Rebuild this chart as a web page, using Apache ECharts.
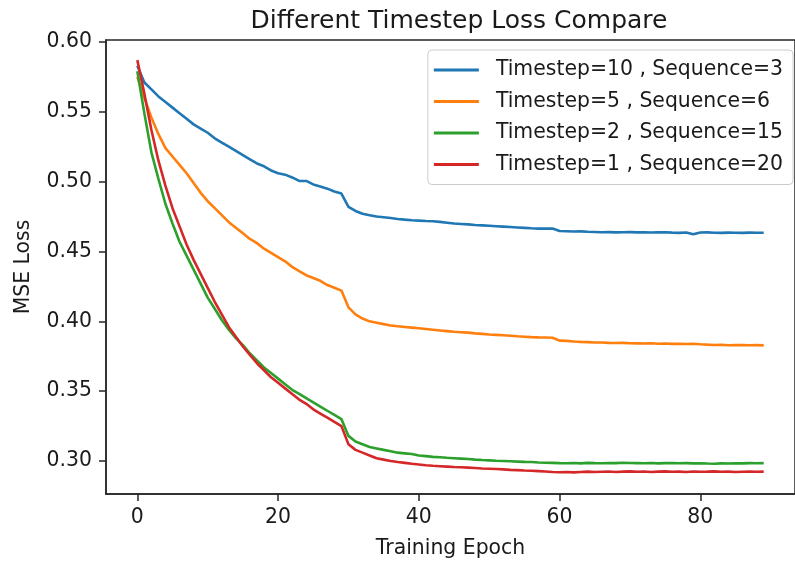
<!DOCTYPE html>
<html>
<head>
<meta charset="utf-8">
<script src="https://cdn.jsdelivr.net/npm/echarts@6/dist/echarts.min.js"></script>
<style>
	html, body { margin: 0; padding: 0; background: #fff; }
	#main { width: 795px; height: 564px; }
</style>
</head>
<body>
<div id="main"></div>
<script>
// epochs 0..89
var epochs = Array.from({ length: 90 }, function (_, i) { return i; });

var seriesNames = [
	'Timestep=10 , Sequence=3',
	'Timestep=5 , Sequence=6',
	'Timestep=2 , Sequence=15',
	'Timestep=1 , Sequence=20'
];

var lossT10 = [
	0.583, 0.571, 0.566, 0.561, 0.557, 0.553, 0.549, 0.545, 0.541, 0.538,
	0.535, 0.531, 0.528, 0.525, 0.522, 0.519, 0.516, 0.513, 0.511, 0.508,
	0.506, 0.505, 0.503, 0.5005, 0.5005, 0.498, 0.4965, 0.495, 0.493, 0.4915,
	0.482, 0.479, 0.477, 0.476, 0.475, 0.4745, 0.474, 0.4733, 0.4728, 0.4724,
	0.4721, 0.4718, 0.4716, 0.4712, 0.4706, 0.4700, 0.4697, 0.4694, 0.4690, 0.4687,
	0.4684, 0.4681, 0.4678, 0.4675, 0.4672, 0.4669, 0.4666, 0.4664, 0.4665, 0.4664,
	0.4647, 0.4645, 0.4643, 0.4644, 0.4641, 0.4640, 0.4638, 0.4639, 0.4637, 0.4638,
	0.4639, 0.4637, 0.4638, 0.4636, 0.4637, 0.4638, 0.4635, 0.4633, 0.4636, 0.4623,
	0.4636, 0.4637, 0.4634, 0.4633, 0.4635, 0.4634, 0.4633, 0.4635, 0.4634, 0.4634
];

var lossT5 = [
	0.575, 0.560, 0.546, 0.534, 0.524, 0.518, 0.512, 0.506, 0.499, 0.492,
	0.486, 0.481, 0.476, 0.471, 0.467, 0.463, 0.459, 0.456, 0.452, 0.449,
	0.446, 0.443, 0.439, 0.436, 0.433, 0.431, 0.429, 0.426, 0.424, 0.422,
	0.410, 0.405, 0.402, 0.400, 0.399, 0.398, 0.397, 0.3965, 0.396, 0.3955,
	0.395, 0.3945, 0.394, 0.3935, 0.393, 0.3925, 0.3922, 0.3919, 0.3914, 0.391,
	0.3906, 0.3903, 0.390, 0.3897, 0.3893, 0.389, 0.3887, 0.3885, 0.3884, 0.3883,
	0.3862, 0.386, 0.3856, 0.3853, 0.3851, 0.3848, 0.3849, 0.3846, 0.3845, 0.3846,
	0.3843, 0.3842, 0.3841, 0.3843, 0.384, 0.3841, 0.3839, 0.384, 0.3838, 0.384,
	0.3836, 0.3833, 0.3831, 0.3832, 0.3829, 0.383, 0.3831, 0.3829, 0.383, 0.3828
];

var lossT2 = [
	0.579, 0.549, 0.521, 0.502, 0.484, 0.470, 0.457, 0.447, 0.437, 0.427,
	0.417, 0.409, 0.401, 0.394, 0.388, 0.383, 0.377, 0.372, 0.367, 0.363,
	0.359, 0.355, 0.351, 0.348, 0.345, 0.342, 0.339, 0.336, 0.333, 0.330,
	0.318, 0.314, 0.312, 0.310, 0.309, 0.308, 0.307, 0.306, 0.3055, 0.305,
	0.304, 0.3035, 0.303, 0.3027, 0.3023, 0.302, 0.3017, 0.3014, 0.301, 0.3007,
	0.3005, 0.3002, 0.300, 0.2998, 0.2996, 0.2994, 0.2993, 0.299, 0.2988, 0.2987,
	0.2985, 0.2984, 0.2986, 0.2983, 0.2987, 0.2985, 0.2984, 0.2986, 0.2985, 0.2988,
	0.2986, 0.2985, 0.2984, 0.2986, 0.2983, 0.2985, 0.2986, 0.2984, 0.2985, 0.2983,
	0.2984, 0.2982, 0.2981, 0.2983, 0.2982, 0.2984, 0.2983, 0.2985, 0.2984, 0.2985
];

var lossT1 = [
	0.587, 0.563, 0.537, 0.515, 0.497, 0.481, 0.468, 0.455, 0.444, 0.434,
	0.424, 0.414, 0.405, 0.396, 0.389, 0.382, 0.376, 0.370, 0.365, 0.360,
	0.356, 0.352, 0.348, 0.344, 0.341, 0.337, 0.334, 0.331, 0.328, 0.325,
	0.312, 0.308, 0.306, 0.304, 0.302, 0.301, 0.300, 0.2993, 0.2987, 0.298,
	0.2975, 0.297, 0.2966, 0.2963, 0.296, 0.2957, 0.2955, 0.2953, 0.295, 0.2947,
	0.2945, 0.2943, 0.294, 0.2937, 0.2935, 0.2932, 0.293, 0.2928, 0.2925, 0.2922,
	0.292, 0.2921, 0.2919, 0.2922, 0.2924, 0.2921, 0.2923, 0.2925, 0.2922, 0.2924,
	0.2926, 0.2923, 0.2925, 0.2922, 0.2924, 0.2926, 0.2923, 0.2924, 0.2922, 0.2925,
	0.2923, 0.2924, 0.2926, 0.2923, 0.2924, 0.2922, 0.2923, 0.2924, 0.2923, 0.2924
];

var xTicks = [0, 20, 40, 60, 80];
var yTicks = [0.30, 0.35, 0.40, 0.45, 0.50, 0.55, 0.60];

var colors = ['#1f77b4', '#ff7f0e', '#2ca02c', '#d62728'];
var font = 'DejaVu Sans';
var textColor = '#1a1a1a';
var spine = '#262626';

function pairs(values) {
	return epochs.map(function (e, i) { return [e, values[i]]; });
}

var allLoss = [lossT10, lossT5, lossT2, lossT1];

var myChart = echarts.init(document.getElementById('main'), null, { renderer: 'canvas' });
var option = {
	animation: false,
	color: colors,
	title: {
		text: 'Different Timestep Loss Compare',
		left: 454,
		top: 4,
		textAlign: 'center',
		textStyle: { fontFamily: font, fontSize: 25, fontWeight: 'normal', color: textColor }
	},
	legend: {
		orient: 'vertical',
		right: 2,
		top: 50,
		padding: [10, 10, 10, 6],
		itemWidth: 45,
		itemHeight: 3,
		itemGap: 11.5,
		icon: 'rect',
		borderColor: '#cccccc',
		borderWidth: 1,
		borderRadius: 4,
		backgroundColor: 'rgba(255,255,255,0.8)',
		textStyle: { fontFamily: font, fontSize: 20.4, color: textColor, padding: [0, 0, 0, 12] },
		data: seriesNames
	},
	grid: {
		left: 106,
		right: -8,
		top: 40,
		bottom: 69,
		show: true,
		borderColor: spine,
		borderWidth: 1.5
	},
	xAxis: {
		type: 'value',
		min: -4.45,
		max: 93.45,
		name: 'Training Epoch',
		nameLocation: 'middle',
		nameGap: 45,
		nameTextStyle: { fontFamily: font, fontSize: 20.4, color: textColor },
		axisLine: { show: true, onZero: false, lineStyle: { color: spine, width: 1.5 } },
		axisTick: { show: true, length: 7, customValues: xTicks, lineStyle: { color: spine, width: 1.5 } },
		axisLabel: { customValues: xTicks, margin: 14, fontFamily: font, fontSize: 20.4, color: textColor },
		splitLine: { show: false }
	},
	yAxis: {
		type: 'value',
		min: 0.2764,
		max: 0.6014,
		name: 'MSE Loss',
		nameLocation: 'middle',
		nameGap: 72,
		nameTextStyle: { fontFamily: font, fontSize: 20.4, color: textColor },
		axisLine: { show: true, onZero: false, lineStyle: { color: spine, width: 1.5 } },
		axisTick: { show: true, length: 7, customValues: yTicks, lineStyle: { color: spine, width: 1.5 } },
		axisLabel: {
			customValues: yTicks,
			margin: 14,
			fontFamily: font,
			fontSize: 20.4,
			color: textColor,
			formatter: function (v) { return v.toFixed(2); }
		},
		splitLine: { show: false }
	},
	series: allLoss.map(function (arr, k) {
		return {
			name: seriesNames[k],
			type: 'line',
			data: pairs(arr),
			showSymbol: false,
			symbol: 'none',
			lineStyle: { width: 2.6 },
			z: 2 + k
		};
	})
};
myChart.setOption(option);
window.onresize = function () {
	myChart.resize();
};
</script>
</body>
</html>
